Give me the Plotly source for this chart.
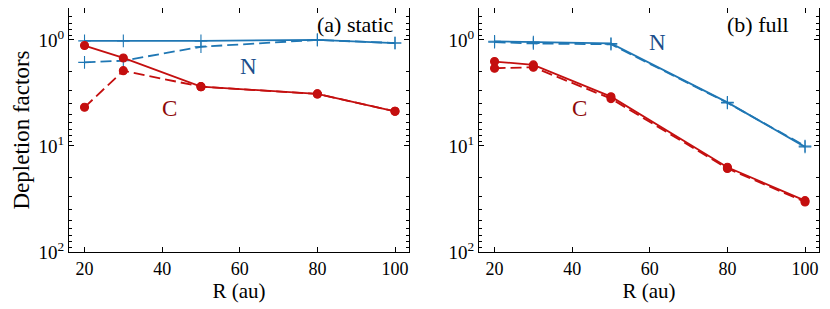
import plotly.graph_objects as go
from plotly.subplots import make_subplots

R = [20, 30, 50, 80, 100]

# (a) static
static_N_solid = [1.02, 1.02, 1.02, 1.0, 1.07]
static_N_dash = [1.63, 1.57, 1.16, 1.0, 1.07]
static_C_solid = [1.13, 1.48, 2.76, 3.23, 4.71]
static_C_dash = [4.32, 1.95, 2.76, 3.23, 4.71]

# (b) full
full_N_solid = [1.03, 1.05, 1.08, 3.88, 10.2]
full_N_dash = [1.05, 1.08, 1.10, 3.92, 10.0]
full_C_solid = [1.60, 1.72, 3.43, 15.9, 32.8]
full_C_dash = [1.85, 1.81, 3.58, 16.3, 33.7]

ytick_vals = [1, 10, 100]
ytick_text = ["10<sup>0</sup>", "10<sup>1</sup>", "10<sup>2</sup>"]
xtick_vals = [20, 40, 60, 80, 100]

BLUE = "#1f77b4"
RED = "#c40f0f"
NCOL = "#1c4f8c"
CCOL = "#8e0a0a"
FONT = "'Liberation Serif', 'Times New Roman', serif"

fig = make_subplots(rows=1, cols=2, horizontal_spacing=0.0934)

def add(col, y, color, dash, symbol):
    size = 8 if symbol == "circle" else 9
    fig.add_trace(go.Scatter(
        x=R, y=y, mode="lines+markers",
        line=dict(color=color, width=1.8, dash=dash),
        marker=dict(symbol=symbol, size=size, color=color,
                    line=dict(color=color, width=1.1)),
        showlegend=False), row=1, col=col)

DASH = "11px,5px"
add(1, static_N_dash, BLUE, DASH, "cross-thin")
add(1, static_N_solid, BLUE, "solid", "cross-thin")
add(1, static_C_dash, RED, DASH, "circle")
add(1, static_C_solid, RED, "solid", "circle")
add(2, full_N_dash, BLUE, DASH, "cross-thin")
add(2, full_N_solid, BLUE, "solid", "cross-thin")
add(2, full_C_dash, RED, DASH, "circle")
add(2, full_C_solid, RED, "solid", "circle")

for c in (1, 2):
    fig.update_xaxes(row=1, col=c, range=[16, 103.6], tickvals=xtick_vals,
                     ticks="inside", ticklen=5, tickcolor="black",
                     showline=True, linecolor="black", linewidth=1.2, mirror="ticks",
                     showgrid=False, zeroline=False,
                     title=dict(text="R (au)", font=dict(size=21, family=FONT, color="black"), standoff=0),
                     tickfont=dict(size=18, family=FONT, color="black"))
    fig.update_yaxes(row=1, col=c, type="log", range=[2, -0.301],
                     tickvals=ytick_vals, ticktext=ytick_text,
                     ticks="inside", ticklen=5, tickcolor="black",
                     minor=dict(ticks="inside", ticklen=3, tickcolor="black", dtick="D1", showgrid=False),
                     showline=True, linecolor="black", linewidth=1.2, mirror="ticks",
                     showgrid=False, zeroline=False,
                     tickfont=dict(size=19, family=FONT, color="black"))
fig.update_yaxes(row=1, col=1, title=dict(text="Depletion factors",
                 font=dict(size=23, family=FONT, color="black"), standoff=2))

annots = [
    dict(xref="x domain", yref="y domain", x=0.962, y=0.932, text="(a) static",
         xanchor="right", font=dict(size=22, color="black")),
    dict(xref="x domain", yref="y domain", x=0.528, y=0.759, text="N",
         xanchor="center", font=dict(size=23, color=NCOL)),
    dict(xref="x domain", yref="y domain", x=0.297, y=0.589, text="C",
         xanchor="center", font=dict(size=23, color=CCOL)),
    dict(xref="x2 domain", yref="y2 domain", x=0.917, y=0.932, text="(b) full",
         xanchor="right", font=dict(size=22, color="black")),
    dict(xref="x2 domain", yref="y2 domain", x=0.526, y=0.859, text="N",
         xanchor="center", font=dict(size=23, color=NCOL)),
    dict(xref="x2 domain", yref="y2 domain", x=0.297, y=0.589, text="C",
         xanchor="center", font=dict(size=23, color=CCOL)),
]
for a in annots:
    a["showarrow"] = False
    a["yanchor"] = "middle"
    a["font"]["family"] = FONT
    fig.add_annotation(**a)

fig.update_layout(width=822, height=301,
                  margin=dict(l=61, r=11, t=0, b=57),
                  paper_bgcolor="white", plot_bgcolor="white",
                  font=dict(family=FONT, color="black"))

fig.write_html("out.html")
